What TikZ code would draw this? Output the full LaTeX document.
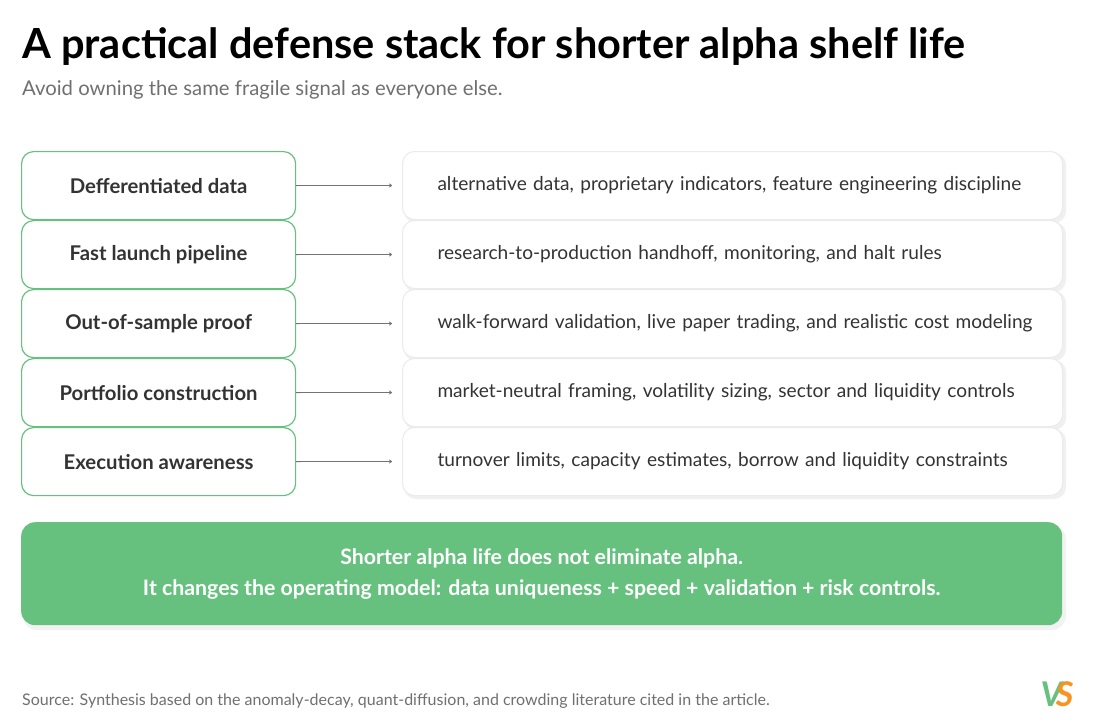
\documentclass[tikz,border=0pt]{standalone}
\usepackage{fontspec}
\usetikzlibrary{arrows.meta}
\setmainfont{Lato}
\definecolor{grn}{HTML}{66C17F}
\definecolor{txt}{HTML}{333333}
\definecolor{sub}{HTML}{707070}
\definecolor{org}{HTML}{F7931E}
\begin{document}
\begin{tikzpicture}[x=1pt,y=-1pt,
 lbox/.style={draw=grn,line width=1.2pt,rounded corners=12pt,minimum width=274pt,minimum height=68pt,fill=white,font=\bfseries\fontsize{20.3}{24}\selectfont,text=txt,anchor=north west},
 rbox/.style={draw=black!8,line width=1pt,rounded corners=12pt,minimum height=68pt,inner xsep=20pt,text width=620pt,fill=white,font=\fontsize{19.1}{23}\selectfont,text=txt,anchor=north west,align=left},
 arr/.style={draw=black!55,line width=0.8pt,-{To[length=3pt,width=4pt]}}]
\useasboundingbox (0,0) rectangle (1100,725);
\fill[white] (0,0) rectangle (1100,725);
\node[anchor=west,font=\bfseries\fontsize{41.5}{46}\selectfont,text=black,inner xsep=0pt] (title) at (22,47) {A practical defense stack for shorter alpha shelf life};
\node[anchor=west,font=\fontsize{20.3}{24}\selectfont,text=sub,inner xsep=0pt] (subt) at (22,90) {Avoid owning the same fragile signal as everyone else.};
\foreach \i/\l/\r in {0/Defferentiated data/{alternative data, proprietary indicators, feature engineering discipline},
 1/Fast launch pipeline/{research-to-production handhoff, monitoring, and halt rules},
 2/Out-of-sample proof/{walk-forward validation, live paper trading, and realistic cost modeling},
 3/Portfolio construction/{market-neutral framing, volatility sizing, sector and liquidity controls},
 4/Execution awareness/{turnover limits, capacity estimates, borrow and liquidity constraints}}{
 \pgfmathsetmacro\yy{151+69*\i}
 \fill[black!6,rounded corners=12pt] (404,\yy+2) rectangle (1066,\yy+72);
 \node[rbox] (r\i) at (402,\yy) {\hspace*{15pt}\r};
 \node[lbox] (l\i) at (21,\yy) {\l};
 \draw[arr] (l\i.east) -- ([xshift=-10pt]r\i.west);
}
\fill[black!5,rounded corners=14pt] (23,525) rectangle (1066,630);
\node[fill=grn,rounded corners=14pt,minimum width=1041pt,minimum height=103pt,anchor=north west,text=white,font=\bfseries\fontsize{21.3}{31}\selectfont,align=center] (banner) at (21,522) {Shorter alpha life does not eliminate alpha.\\It changes the operating model: data uniqueness + speed + validation + risk controls.};
\node[anchor=west,font=\fontsize{16}{18}\selectfont,text=sub,inner xsep=0pt] (src) at (22,701) {Source: Synthesis based on the anomaly-decay, quant-diffusion, and crowding literature cited in the article.};
\node[anchor=center,font=\bfseries\itshape\fontsize{34}{34}\selectfont] (logo) at (1057,694) {\textcolor{grn}{V}\kern-7pt\textcolor{org}{S}};
\end{tikzpicture}
\end{document}
